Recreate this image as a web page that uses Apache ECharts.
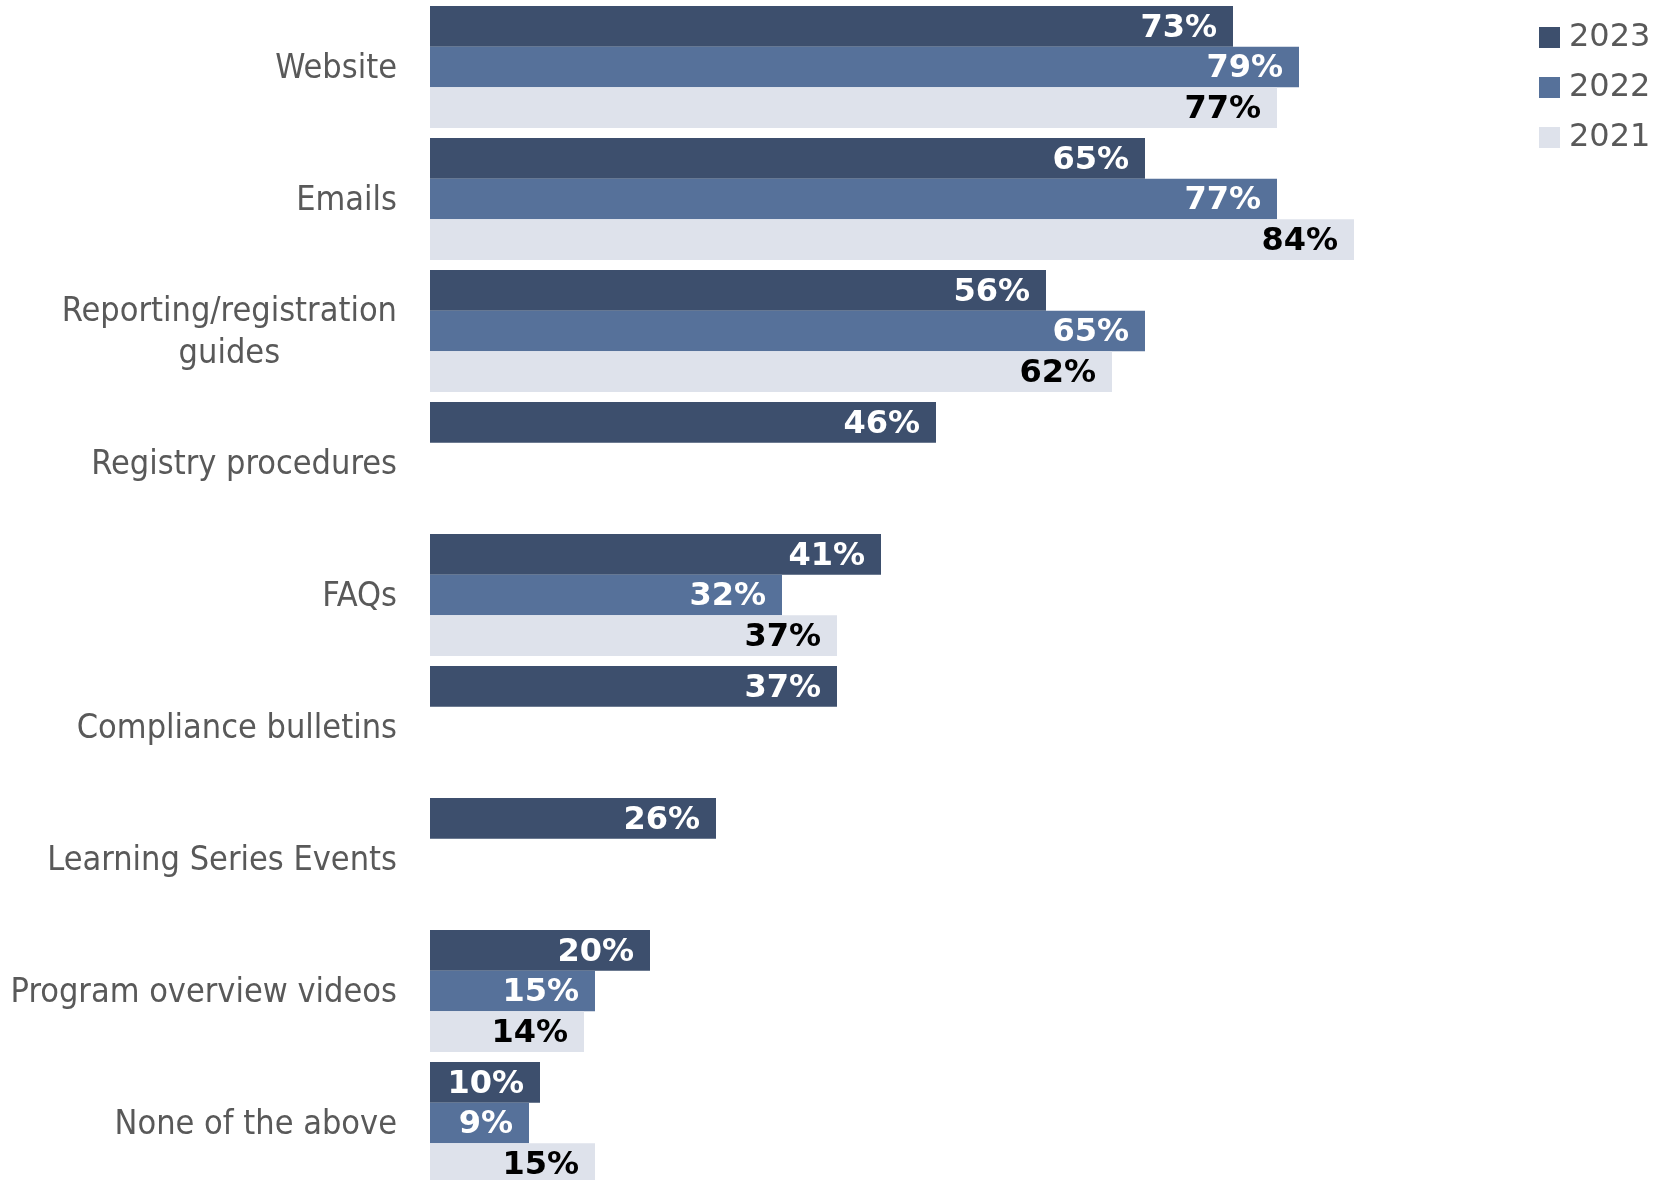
<!DOCTYPE html>
<html>
<head>
<meta charset="utf-8">
<script src="https://cdn.jsdelivr.net/npm/echarts@6/dist/echarts.min.js"></script>
<style>
  html, body { margin: 0; padding: 0; background: #ffffff; }
  #chart { width: 1675px; height: 1180px; }
</style>
</head>
<body>
<div id="chart"></div>
<script>
// Survey: information sources used, by year (percent of respondents)
const categories = [
  'Website',
  'Emails',
  'Reporting/registration\nguides',
  'Registry procedures',
  'FAQs',
  'Compliance bulletins',
  'Learning Series Events',
  'Program overview videos',
  'None of the above'
];
const years = ['2023', '2022', '2021'];
const values2023 = [73, 65, 56, 46, 41, 37, 26, 20, 10];
const values2022 = [79, 77, 65, null, 32, null, null, 15, 9];
const values2021 = [77, 84, 62, null, 37, null, null, 14, 15];

const seriesValues = [values2023, values2022, values2021];
const colors = ['#3D4F6D', '#56719A', '#DEE2EB'];
const labelColors = ['#ffffff', '#ffffff', '#000000'];

const condensedFont = '"DejaVu Sans Condensed", "DejaVu Sans", sans-serif';
const plainFont = '"DejaVu Sans", sans-serif';

const chart = echarts.init(document.getElementById('chart'), null, { renderer: 'canvas' });

chart.setOption({
  animation: false,
  backgroundColor: '#ffffff',
  legend: {
    orient: 'vertical',
    left: 1534,
    top: 16,
    itemWidth: 21,
    itemHeight: 21,
    itemGap: 17,
    icon: 'rect',
    data: years,
    textStyle: {
      fontFamily: plainFont,
      fontSize: 32,
      lineHeight: 33,
      color: '#595959',
      padding: [0, 0, 0, 4]
    }
  },
  grid: {
    left: 430,
    top: 1,
    width: 1100,
    height: 1188,
    outerBoundsMode: 'none'
  },
  xAxis: {
    type: 'value',
    min: 0,
    max: 100,
    show: false
  },
  yAxis: {
    type: 'category',
    inverse: true,
    data: categories,
    axisLine: { show: false },
    axisTick: { show: false },
    splitLine: { show: false },
    axisLabel: {
      margin: 33,
      align: 'right',
      padding: [5, 0, 0, 0],
      formatter: function (v) {
        return v.split('\n').map(function (line) { return '{c|' + line + '}'; }).join('\n');
      },
      rich: {
        c: {
          align: 'center',
          fontFamily: condensedFont,
          fontSize: 34,
          lineHeight: 42,
          color: '#595959'
        }
      }
    }
  },
  series: years.map(function (year, i) {
    return {
      name: year,
      type: 'bar',
      data: seriesValues[i],
      barGap: '0%',
      barCategoryGap: '7.6%',
      itemStyle: { color: colors[i] },
      label: {
        show: true,
        position: 'insideRight',
        distance: 16,
        offset: [0, 2],
        formatter: '{c}%',
        fontFamily: plainFont,
        fontWeight: 'bold',
        fontSize: 32,
        color: labelColors[i]
      }
    };
  })
});
</script>
</body>
</html>
